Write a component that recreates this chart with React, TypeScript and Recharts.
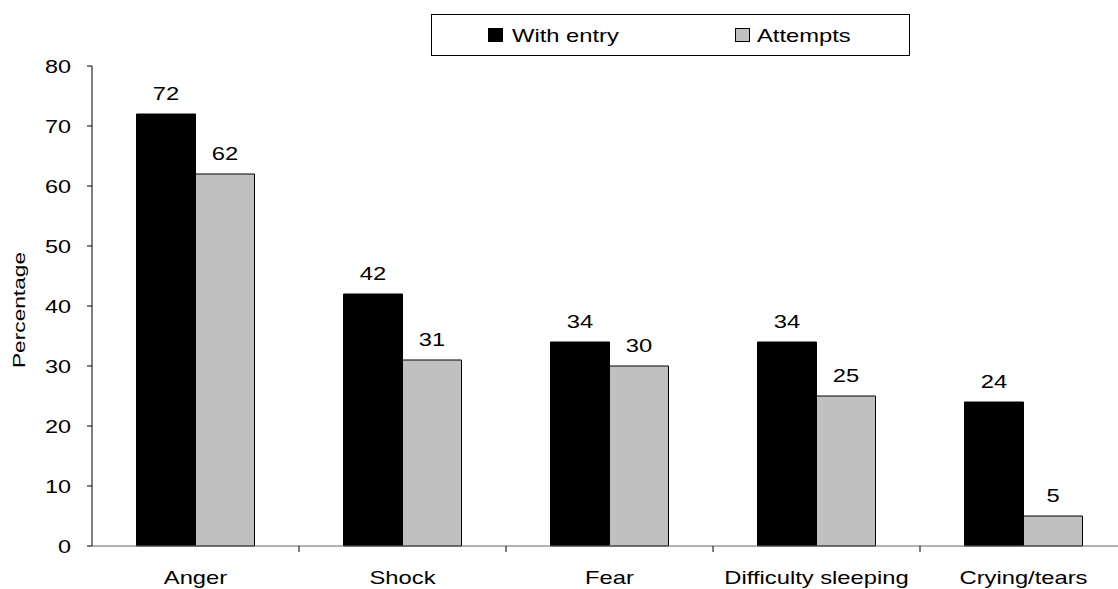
import React from 'react';
import { BarChart, Bar, XAxis, YAxis, LabelList, Legend } from 'recharts';

const categories = ['Anger', 'Shock', 'Fear', 'Difficulty sleeping', 'Crying/tears'];
const withEntry = [72, 42, 34, 34, 24];
const attempts = [62, 31, 30, 25, 5];
const yTicks = [0, 10, 20, 30, 40, 50, 60, 70, 80];

const data = categories.map((name, i) => ({
  name,
  withEntry: withEntry[i],
  attempts: attempts[i],
}));

const CHART_W = 1140;
const CHART_H = 589;
const LEGEND_H = 42;
const MARGIN = { top: 66 - LEGEND_H, right: 13, bottom: 13, left: 0 };
const Y_AXIS_W = 92;
const PLOT_W = CHART_W - MARGIN.left - MARGIN.right - Y_AXIS_W;
const BAND = PLOT_W / categories.length;
const FONT = 'Liberation Sans, Arial, sans-serif';
const WIDE = 1.25;

// Text drawn with a wide, horizontally stretched face
const WideText = ({ x, y, anchor = 'middle', size = 19, sx = WIDE, rotate = 0, children }: any) => (
  <text
    transform={`translate(${x},${y}) rotate(${rotate}) scale(${sx},1)`}
    textAnchor={anchor}
    fontFamily={FONT}
    fontSize={size}
    fill="#000"
  >
    {children}
  </text>
);

// Category label at the band centre plus a tick mark at the band's left edge
const CategoryTick = (props: any) => {
  const { x, y, payload, index } = props;
  return (
    <g>
      {index > 0 && (
        <line x1={x - BAND / 2} x2={x - BAND / 2} y1={y - 8} y2={y - 2} stroke="#000" />
      )}
      <WideText x={x} y={y + 30}>{payload.value}</WideText>
    </g>
  );
};

const ValueTick = (props: any) => {
  const { x, y, payload } = props;
  return (
    <WideText x={x - 14} y={y + 7} anchor="end" size={18} sx={1.3}>
      {payload.value}
    </WideText>
  );
};

const BarValue = (props: any) => {
  const { x, y, width, value } = props;
  return (
    <WideText x={x + width / 2} y={y - 14}>
      {value}
    </WideText>
  );
};

const AxisTitle = (props: any) => {
  const { viewBox } = props;
  const cy = viewBox.y + viewBox.height / 2;
  return (
    <WideText x={25} y={cy + 4} size={16} sx={1.42} rotate={-90}>
      Percentage
    </WideText>
  );
};

const LegendBox = () => (
  <svg width={480} height={LEGEND_H} style={{ display: 'block' }}>
    <rect x={0.5} y={0.5} width={478} height={41} fill="#fff" stroke="#000" />
    <rect x={57.5} y={14.5} width={14} height={13} fill="#000" stroke="#000" />
    <WideText x={81} y={28} anchor="start">With entry</WideText>
    <rect x={304.5} y={14.5} width={14} height={13} fill="#c0c0c0" stroke="#000" />
    <WideText x={326} y={28} anchor="start">Attempts</WideText>
  </svg>
);

export default function App() {
  return (
    <div
      style={{
        position: 'fixed',
        left: 0,
        top: 0,
        width: 1118,
        height: 589,
        overflow: 'hidden',
        background: '#fff',
      }}
    >
      <BarChart
        width={CHART_W}
        height={CHART_H}
        data={data}
        margin={MARGIN}
        barCategoryGap="21.5%"
        barGap={0}
      >
        <XAxis
          dataKey="name"
          axisLine={{ stroke: '#666' }}
          tickLine={false}
          tick={<CategoryTick />}
          interval={0}
        />
        <YAxis
          width={Y_AXIS_W}
          domain={[0, 80]}
          ticks={yTicks}
          interval={0}
          axisLine={{ stroke: '#000' }}
          tickLine={{ stroke: '#000' }}
          tickSize={5}
          tick={<ValueTick />}
          label={<AxisTitle />}
        />
        <Legend
          content={<LegendBox />}
          verticalAlign="top"
          wrapperStyle={{ position: 'absolute', top: 14, left: 431, width: 480, height: LEGEND_H }}
        />
        <Bar dataKey="withEntry" name="With entry" fill="#000" stroke="#000" strokeWidth={1} isAnimationActive={false}>
          <LabelList dataKey="withEntry" content={<BarValue />} />
        </Bar>
        <Bar dataKey="attempts" name="Attempts" fill="#c0c0c0" stroke="#000" strokeWidth={1} isAnimationActive={false}>
          <LabelList dataKey="attempts" content={<BarValue />} />
        </Bar>
      </BarChart>
    </div>
  );
}
